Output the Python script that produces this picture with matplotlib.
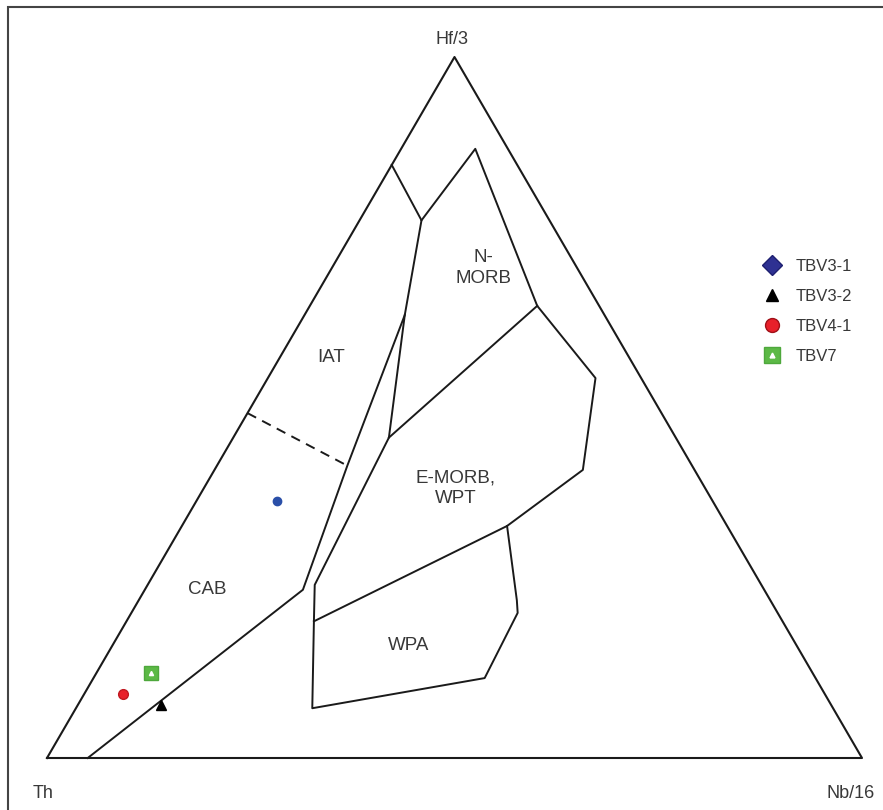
import numpy as np
import matplotlib.pyplot as plt
from matplotlib.lines import Line2D
from matplotlib.patches import Rectangle

plt.rcParams['font.family'] = ['Liberation Sans', 'DejaVu Sans']

# field boundary vertices, (Th, Hf/3, Nb/16) in percent
th = {'A': 95.0, 'B': 56.6, 'C': 42.3, 'D': 24.5, 'E': 15.7, 'F': 15.4, 'G': 4.0,
      'H': 7.6, 'I': 35.2, 'J': 5.6, 'K': 13.7, 'L': 27.0, 'M': 54.8, 'N': 57.5,
      'O': 63.9, 'P': 40.6, 'Q': 31.9, 'R': 31.1, 'S': 50.8}
hf = {'A': 0.0, 'B': 24.0, 'C': 41.7, 'D': 63.2, 'E': 76.7, 'F': 84.6, 'G': 86.9,
      'H': 64.5, 'I': 45.7, 'J': 54.2, 'K': 41.1, 'L': 33.1, 'M': 24.7, 'N': 19.5,
      'O': 7.1, 'P': 11.4, 'Q': 20.7, 'R': 22.5, 'S': 49.2}

boundaries = ['ABCDEF', 'EGHJKLN', 'DIMNOPQRL', 'IH']
dashed = ['SC']

# samples
samples = ['TBV3-1', 'TBV3-2', 'TBV4-1', 'TBV7']
s_th = [53.4, 82.2, 86.1, 81.2]
s_hf = [36.7, 7.6, 9.1, 12.1]

field_names = ['N-\nMORB', 'IAT', 'E-MORB,\nWPT', 'CAB', 'WPA']
f_th = [11.5, 36.5, 30.6, 68.3, 47.6]
f_hf = [69.9, 57.2, 38.5, 24.1, 16.0]


def tern(t, h):
    t = np.asarray(t, float) / 100.0
    h = np.asarray(h, float) / 100.0
    nb = 1.0 - t - h
    return nb + h / 2.0, h


fig = plt.figure(figsize=(8.83, 8.10), dpi=100)
ax = fig.add_axes([0, 0, 1, 1])
ax.set_xlim(-47 / 815, 1 + 21 / 815)
ax.set_ylim(-52 / 701, 1 + 57 / 701)
ax.axis('off')

lc = '#1a1a1a'
# outer triangle
x, y = tern([100, 0, 0, 100], [0, 100, 0, 0])
ax.plot(x, y, color=lc, lw=1.5)

for seg in boundaries:
    x, y = tern([th[k] for k in seg], [hf[k] for k in seg])
    ax.plot(x, y, color=lc, lw=1.4)
for seg in dashed:
    x, y = tern([th[k] for k in seg], [hf[k] for k in seg])
    ax.plot(x, y, color=lc, lw=1.4, ls=(0, (5, 3.5)))

tc = '#383838'
for name, t, h in zip(field_names, f_th, f_hf):
    x, y = tern(t, h)
    ax.text(x, y, name, ha='center', va='center', fontsize=13.5, color=tc,
            linespacing=1.25)

# apex labels
x, y = tern([100, 0, 0], [0, 100, 0])
ax.text(x[0] - 0.018, y[0] - 0.05, 'Th', ha='left', va='center', fontsize=13,
        color=tc)
ax.text(x[1] - 0.003, y[1] + 0.025, 'Hf/3', ha='center', va='center', fontsize=13,
        color=tc)
ax.text(x[2] - 0.043, y[2] - 0.05, 'Nb/16', ha='left', va='center', fontsize=13,
        color=tc)

# sample points
sx, sy = tern(s_th, s_hf)
ax.plot(sx[0], sy[0], marker='o', ms=6, color='#2a4fa8', mec='#2a4fa8')
ax.plot(sx[1], sy[1], marker='^', ms=7, color='black')
ax.plot(sx[2], sy[2], marker='o', ms=7, color='#e8202a', mec='#c01820')
ax.plot(sx[3], sy[3], marker='s', ms=10, color='#5cb946', mec='#4ea83c')
ax.plot(sx[3], sy[3], marker='^', ms=3, color='white', mec='white')

handles = [
    Line2D([], [], ls='none', marker='D', ms=10, color='#2e3192', mec='#1e2070'),
    Line2D([], [], ls='none', marker='^', ms=9, color='black'),
    Line2D([], [], ls='none', marker='o', ms=10, color='#e8202a', mec='#a01018'),
    (Line2D([], [], ls='none', marker='s', ms=11, color='#5cb946', mec='#4ea83c'),
     Line2D([], [], ls='none', marker='^', ms=3.5, color='white', mec='white')),
]
leg = ax.legend(handles, samples, loc='upper left', bbox_to_anchor=(0.855, 0.691),
                frameon=False, fontsize=12, labelspacing=0.9, handletextpad=0.85,
                handlelength=1.1, borderpad=0)
for t in leg.get_texts():
    t.set_color(tc)

fig.add_artist(Rectangle((8 / 883, -0.1), 1.2, 1.1 - 7 / 810,
                         transform=fig.transFigure, fill=False,
                         ec='#444444', lw=1.5))

fig.savefig('out.png', dpi=100)
